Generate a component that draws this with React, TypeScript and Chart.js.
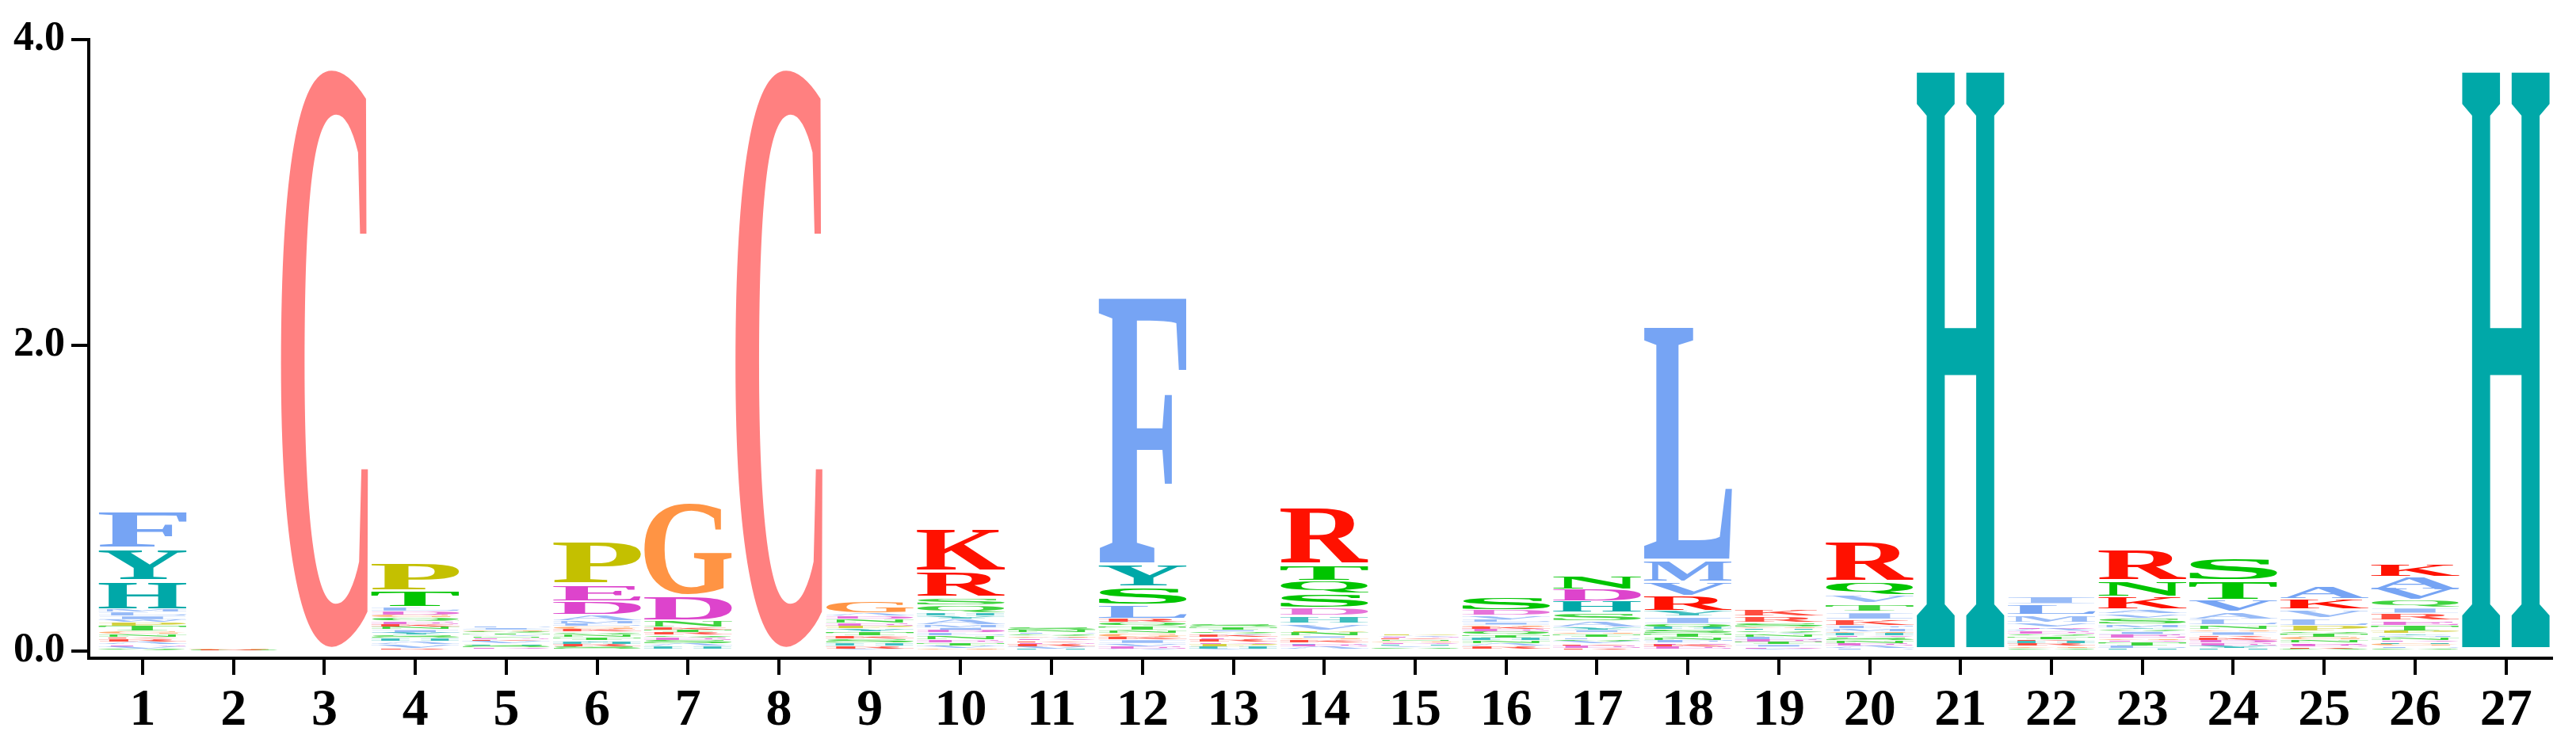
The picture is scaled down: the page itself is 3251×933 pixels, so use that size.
import React, { useEffect, useRef } from 'react';
import { Chart, registerables } from 'chart.js';

Chart.register(...registerables);

const positions = [1, 2, 3, 4, 5, 6, 7, 8, 9, 10, 11, 12, 13, 14, 15, 16, 17, 18, 19, 20, 21, 22, 23, 24, 25, 26, 27];
const xTickLabels = ['1', '2', '3', '4', '5', '6', '7', '8', '9', '10', '11', '12', '13', '14', '15', '16', '17', '18', '19', '20', '21', '22', '23', '24', '25', '26', '27'];
const yTickValues = [0, 2, 4];
const yTickLabels = ['0.0', '2.0', '4.0'];

// letters of each column, bottom -> top
const stackLetters = [
  'QVEARKNGTPWILMHYF',
  'SRGDV',
  'C',
  'RVAHSYINKEQGDLTP',
  'RDSHVKENATQGIL',
  'VSRHYTNQKGLMADEP',
  'VHASEQRTKNDG',
  'C',
  'VRHSKTYPENDAG',
  'GVTENLDIMAYHQSRK',
  'HVREKDAGQLNS',
  'AEVIKGNTQRLSYF',
  'VHPDREKAQITS',
  'YAELKGINPVHDSQTR',
  'RSVHDGNKEAP',
  'PRANHTQEKGILVDS',
  'REKVQLTGIYASHDN',
  'AEKDFNTSHQIYRVML',
  'VDITELNAQHGSRK',
  'LAENSDHGMFKITVQR',
  'H',
  'SGRHKTQEADVMLI',
  'HLTDGEIQYMSVAKNR',
  'HYEDKRIGNLAVTS',
  'SREDNGTQPLVKA',
  'SLGHDNMYPTERIQVAK',
  'H',
];

// heights (bits) matching stackLetters
const stackHeights = [
  [0.015, 0.015, 0.012, 0.02, 0.018, 0.012, 0.02, 0.015, 0.035, 0.025, 0.018, 0.025, 0.025, 0.015, 0.19, 0.21, 0.25],
  [0.004, 0.006, 0.004, 0.003, 0.003],
  [3.8],
  [0.015, 0.03, 0.02, 0.02, 0.02, 0.015, 0.02, 0.02, 0.015, 0.02, 0.025, 0.015, 0.025, 0.03, 0.105, 0.19],
  [0.012, 0.01, 0.015, 0.012, 0.015, 0.01, 0.01, 0.012, 0.012, 0.012, 0.01, 0.01, 0.012, 0.008],
  [0.012, 0.015, 0.015, 0.015, 0.012, 0.02, 0.02, 0.015, 0.02, 0.02, 0.015, 0.016, 0.045, 0.087, 0.108, 0.292],
  [0.012, 0.02, 0.015, 0.025, 0.02, 0.012, 0.02, 0.015, 0.016, 0.045, 0.16, 0.62],
  [3.8],
  [0.015, 0.02, 0.02, 0.025, 0.02, 0.025, 0.02, 0.02, 0.02, 0.025, 0.02, 0.02, 0.07],
  [0.015, 0.02, 0.02, 0.02, 0.025, 0.02, 0.015, 0.02, 0.015, 0.04, 0.02, 0.02, 0.05, 0.05, 0.17, 0.29],
  [0.015, 0.015, 0.015, 0.012, 0.012, 0.01, 0.01, 0.01, 0.012, 0.01, 0.016, 0.02],
  [0.015, 0.015, 0.02, 0.025, 0.015, 0.025, 0.02, 0.03, 0.02, 0.03, 0.085, 0.12, 0.145, 1.755],
  [0.015, 0.015, 0.015, 0.012, 0.02, 0.012, 0.015, 0.012, 0.012, 0.01, 0.02, 0.018],
  [0.012, 0.015, 0.015, 0.012, 0.02, 0.012, 0.012, 0.025, 0.012, 0.045, 0.048, 0.057, 0.095, 0.08, 0.1, 0.38],
  [0.012, 0.012, 0.012, 0.01, 0.01, 0.01, 0.01, 0.01, 0.008, 0.008, 0.008],
  [0.012, 0.02, 0.015, 0.02, 0.02, 0.02, 0.018, 0.02, 0.015, 0.012, 0.015, 0.015, 0.033, 0.035, 0.08],
  [0.02, 0.015, 0.012, 0.015, 0.015, 0.012, 0.022, 0.012, 0.015, 0.017, 0.04, 0.06, 0.07, 0.08, 0.085],
  [0.012, 0.015, 0.015, 0.012, 0.015, 0.018, 0.025, 0.03, 0.015, 0.018, 0.05, 0.04, 0.095, 0.095, 0.135, 1.54],
  [0.015, 0.012, 0.015, 0.018, 0.015, 0.015, 0.02, 0.012, 0.015, 0.01, 0.01, 0.028, 0.04, 0.045],
  [0.02, 0.015, 0.015, 0.02, 0.02, 0.012, 0.015, 0.012, 0.02, 0.018, 0.038, 0.05, 0.055, 0.06, 0.08, 0.277],
  [3.8],
  [0.02, 0.012, 0.015, 0.02, 0.01, 0.02, 0.015, 0.018, 0.015, 0.01, 0.03, 0.055, 0.065, 0.055],
  [0.02, 0.015, 0.025, 0.012, 0.012, 0.025, 0.02, 0.015, 0.01, 0.02, 0.036, 0.035, 0.03, 0.08, 0.1, 0.215],
  [0.02, 0.015, 0.02, 0.015, 0.02, 0.012, 0.025, 0.012, 0.03, 0.036, 0.053, 0.077, 0.125, 0.146],
  [0.015, 0.012, 0.015, 0.012, 0.02, 0.015, 0.025, 0.015, 0.036, 0.05, 0.06, 0.065, 0.08],
  [0.02, 0.012, 0.015, 0.012, 0.012, 0.02, 0.012, 0.012, 0.015, 0.035, 0.033, 0.047, 0.04, 0.05, 0.07, 0.08, 0.078],
  [3.8],
];

const letterColors: Record<string, string> = {
  F: '#76A4F4', L: '#76A4F4', I: '#76A4F4', M: '#76A4F4', V: '#76A4F4', A: '#76A4F4', W: '#76A4F4',
  H: '#00A8A8', Y: '#00A8A8',
  C: '#FF8080',
  P: '#C4C000',
  S: '#00C400', T: '#00C400', N: '#00C400', Q: '#00C400',
  G: '#FF9444',
  D: '#DD44CC', E: '#DD44CC',
  K: '#FF1100', R: '#FF1100',
};

const GLYPH_FONT = 'bold 200px "Liberation Serif", serif';
const TICK_FONT = '"Liberation Serif", serif';

const logoPlugin = {
  id: 'logoLetters',
  afterDatasetsDraw(chart: any) {
    const ctx = chart.ctx as CanvasRenderingContext2D;
    ctx.save();
    ctx.font = GLYPH_FONT;
    ctx.textAlign = 'left';
    ctx.textBaseline = 'alphabetic';
    chart.data.datasets.forEach((_ds: any, k: number) => {
      const meta = chart.getDatasetMeta(k);
      meta.data.forEach((el: any, i: number) => {
        const letter = stackLetters[i][k];
        if (!letter) return;
        const { x, y, base, width } = el.getProps(['x', 'y', 'base', 'width'], true);
        const top = Math.min(y, base);
        const bottom = Math.max(y, base);
        const h = bottom - top;
        if (h <= 0.3) return;
        const big = h > 12;
        const pad = big ? Math.min(3, h * 0.06) : h * 0.15;
        const gTop = top + pad;
        const gH = h - 2 * pad;
        const left = x - width / 2;
        const m = ctx.measureText(letter);
        const inkW = m.actualBoundingBoxLeft + m.actualBoundingBoxRight;
        const inkH = m.actualBoundingBoxAscent + m.actualBoundingBoxDescent;
        ctx.save();
        ctx.globalAlpha = big ? 1 : 0.75;
        ctx.translate(left, gTop);
        ctx.scale(width / inkW, gH / inkH);
        ctx.fillStyle = letterColors[letter] || '#888';
        ctx.fillText(letter, m.actualBoundingBoxLeft, m.actualBoundingBoxAscent);
        ctx.restore();
      });
    });
    ctx.restore();
  },
};

export default function App() {
  const canvasRef = useRef<HTMLCanvasElement | null>(null);

  useEffect(() => {
    if (!canvasRef.current) return;
    const maxLayers = Math.max(...stackLetters.map((s) => s.length));
    const datasets = [] as any[];
    for (let k = 0; k < maxLayers; k++) {
      datasets.push({
        label: 'layer ' + (k + 1),
        data: positions.map((p, i) => ({ x: p, y: stackHeights[i][k] ?? 0 })),
        backgroundColor: 'rgba(0,0,0,0)',
        borderWidth: 0,
        barPercentage: 0.968,
        categoryPercentage: 1,
      });
    }
    const chart = new Chart(canvasRef.current, {
      type: 'bar',
      data: { datasets },
      options: {
        animation: false,
        responsive: false,
        devicePixelRatio: 1,
        layout: { padding: { top: 50, right: 31, left: 0, bottom: 0 } },
        plugins: { legend: { display: false }, tooltip: { enabled: false }, title: { display: false } },
        scales: {
          x: {
            type: 'linear',
            stacked: true,
            offset: false,
            min: 0.407,
            max: 27.5,
            afterBuildTicks: (scale: any) => {
              scale.ticks = positions.map((v) => ({ value: v }));
            },
            afterFit: (scale: any) => {
              scale.height = 102;
            },
            ticks: {
              autoSkip: false,
              maxRotation: 0,
              padding: 6,
              color: '#000',
              font: { family: TICK_FONT, weight: 'bold', size: 66 },
              callback: (_v: any, index: number) => xTickLabels[index],
            },
            grid: {
              offset: false,
              drawOnChartArea: false,
              drawTicks: true,
              tickLength: 21,
              tickWidth: 4,
              tickColor: '#000',
              color: '#000',
              lineWidth: 4,
            },
            border: { display: true, color: '#000', width: 4 },
          },
          y: {
            type: 'linear',
            stacked: true,
            min: -0.0466,
            max: 4,
            afterBuildTicks: (scale: any) => {
              scale.ticks = yTickValues.map((v) => ({ value: v }));
            },
            afterFit: (scale: any) => {
              scale.width = 112;
            },
            ticks: {
              padding: 8,
              color: '#000',
              font: { family: TICK_FONT, weight: 'bold', size: 52 },
              callback: (_v: any, index: number) => yTickLabels[index],
            },
            grid: {
              drawOnChartArea: false,
              drawTicks: true,
              tickLength: 22,
              tickWidth: 4,
              tickColor: '#000',
              color: '#000',
              lineWidth: 4,
            },
            border: { display: true, color: '#000', width: 4 },
          },
        },
      },
      plugins: [logoPlugin],
    } as any);
    return () => chart.destroy();
  }, []);

  return (
    <div style={{ position: 'absolute', left: 0, top: 0, width: 3251, height: 933, background: '#fff' }}>
      <canvas ref={canvasRef} width={3251} height={933} style={{ display: 'block', width: 3251, height: 933 }} />
    </div>
  );
}
